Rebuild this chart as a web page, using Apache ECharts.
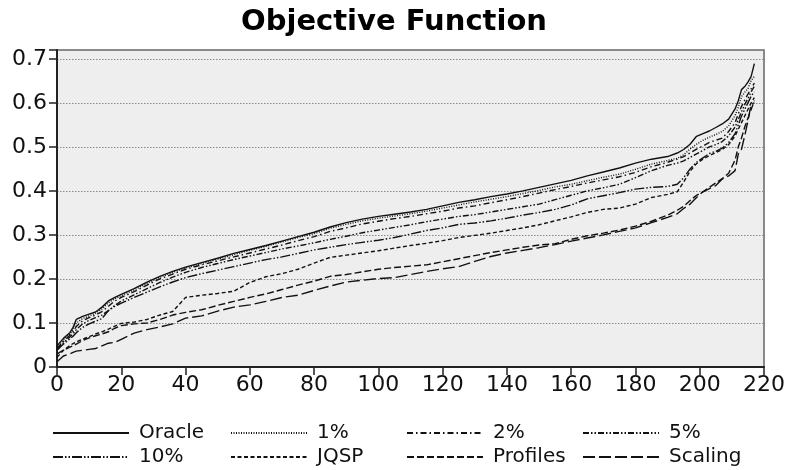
<!DOCTYPE html>
<html>
<head>
<meta charset="utf-8">
<script src="https://cdn.jsdelivr.net/npm/echarts@6/dist/echarts.min.js"></script>
<style>
  html, body { margin: 0; padding: 0; background: #ffffff; }
  #chart { width: 788px; height: 470px; }
</style>
</head>
<body>
<div id="chart"></div>
<script>
// Rank positions along the x axis (instances sorted by objective value)
const ranks = [0,2,4,5,6,8,10,12,14,16,18,20,24,28,32,36,40,45,50,55,60,65,70,75,80,85,90,95,100,105,110,115,120,125,130,135,140,145,150,155,160,165,170,175,180,185,190,193,195,197,199,201,203,205,207,209,211,212,213,214,215,216,217];

const oracle = [0.048,0.065,0.078,0.090,0.108,0.115,
  0.120,0.125,0.136,0.150,0.158,0.165,
  0.178,0.193,0.206,0.217,0.227,
  0.237,0.247,0.258,0.267,0.276,0.286,0.296,0.306,0.318,0.328,0.336,0.342,0.347,0.352,0.358,0.366,0.374,0.380,0.387,0.393,0.400,0.408,0.416,0.424,0.434,0.443,0.452,0.463,0.472,0.478,
  0.486,0.494,0.506,0.524,0.530,0.536,0.544,0.552,0.563,0.586,
  0.605,0.630,0.637,0.647,0.660,0.689];

const pct1 = [0.045,0.062,0.075,0.085,0.100,0.110,
  0.116,0.122,0.132,0.146,0.155,0.162,
  0.175,0.190,0.204,0.215,0.225,
  0.235,0.245,0.255,0.265,0.274,0.284,0.294,0.303,0.315,0.324,0.332,0.338,0.343,0.348,0.354,0.361,0.368,0.375,0.381,0.387,0.394,0.401,0.409,0.415,0.423,0.431,0.438,0.449,0.461,0.469,
  0.474,0.482,0.495,0.506,0.515,0.522,0.528,0.535,0.548,0.571,
  0.590,0.614,0.624,0.632,0.651,0.660];

const pct2 = [0.042,0.058,0.072,0.080,0.092,0.105,
  0.112,0.118,0.126,0.138,0.150,0.158,
  0.171,0.186,0.200,0.211,0.222,
  0.232,0.241,0.250,0.259,0.268,0.277,0.287,0.296,0.308,0.316,0.325,0.331,0.337,0.342,0.348,0.354,0.361,0.366,0.373,0.380,0.387,0.395,0.403,0.410,0.418,0.425,0.432,0.442,0.455,0.465,
  0.472,0.478,0.486,0.495,0.502,0.510,0.515,0.520,0.535,0.555,
  0.575,0.592,0.606,0.620,0.632,0.645];

const pct5 = [0.040,0.055,0.068,0.075,0.085,0.098,
  0.106,0.112,0.118,0.128,0.140,0.150,
  0.164,0.178,0.192,0.204,0.215,
  0.226,0.235,0.244,0.252,0.260,0.268,0.275,0.282,0.290,0.297,0.305,0.311,0.317,0.323,0.330,0.336,0.342,0.346,0.352,0.358,0.364,0.370,0.380,0.390,0.400,0.407,0.415,0.430,0.446,0.458,
  0.463,0.468,0.476,0.484,0.492,0.500,0.505,0.512,0.525,0.545,
  0.562,0.580,0.596,0.610,0.625,0.638];

const pct10 = [0.038,0.052,0.064,0.070,0.078,0.090,
  0.098,0.104,0.110,0.128,0.138,0.145,
  0.158,0.170,0.182,0.193,0.203,
  0.212,0.220,0.228,0.236,0.244,0.250,0.258,0.266,0.272,0.278,0.283,0.288,0.294,0.302,0.310,0.316,0.324,0.327,0.332,0.338,0.345,0.351,0.358,0.368,0.382,0.389,0.396,0.404,0.408,0.410,
  0.415,0.430,0.450,0.465,0.475,0.485,0.490,0.497,0.510,0.530,
  0.550,0.570,0.585,0.600,0.615,0.625];

const jqsp = [0.022,0.038,0.049,0.053,0.057,0.063,
  0.069,0.075,0.080,0.086,0.093,0.099,
  0.102,0.108,0.118,0.126,0.158,
  0.163,0.167,0.172,0.192,0.205,0.212,0.222,0.236,0.249,0.254,0.259,0.264,0.270,0.276,0.281,0.287,0.294,0.299,0.304,0.310,0.316,0.323,0.332,0.341,0.351,0.358,0.361,0.370,0.385,0.392,
  0.398,0.420,0.445,0.462,0.472,0.480,0.487,0.494,0.505,0.525,
  0.540,0.555,0.570,0.585,0.600,0.612];

const profiles = [0.030,0.038,0.045,0.048,0.052,0.060,
  0.066,0.071,0.075,0.080,0.088,0.094,
  0.098,0.100,0.108,0.118,0.124,
  0.130,0.140,0.149,0.158,0.166,0.176,0.186,0.195,0.206,0.210,0.216,0.222,0.226,0.229,0.232,0.239,0.246,0.253,0.260,0.266,0.272,0.277,0.280,0.290,0.298,0.304,0.311,0.320,0.331,0.345,
  0.356,0.365,0.378,0.390,0.398,0.408,0.418,0.428,0.440,0.470,
  0.500,0.520,0.545,0.565,0.585,0.605];

const scaling = [0.012,0.025,0.030,0.033,0.036,0.038,
  0.040,0.042,0.048,0.054,0.056,0.063,
  0.077,0.085,0.091,0.098,0.111,
  0.116,0.127,0.136,0.141,0.149,0.158,0.163,0.174,0.184,0.193,0.197,0.201,0.203,0.210,0.217,0.223,0.228,0.240,0.251,0.259,0.265,0.271,0.278,0.286,0.293,0.300,0.308,0.316,0.328,0.340,
  0.348,0.360,0.370,0.385,0.398,0.405,0.412,0.427,0.434,0.446,
  0.484,0.495,0.525,0.559,0.597,0.600];

const seriesNames = ['Oracle', '1%', '2%', '5%', '10%', 'JQSP', 'Profiles', 'Scaling'];
const seriesValues = [oracle, pct1, pct2, pct5, pct10, jqsp, profiles, scaling];

// Dash patterns for each method (solid, dotted, dash-dot, ...)
const dashes = [
  'solid',
  [1, 1.5],
  [6, 3, 1.5, 3],
  [6, 2, 1.5, 2, 1.5, 2],
  [10, 2, 1.5, 2, 1.5, 2],
  [4, 2.5],
  [7, 3],
  [12, 4]
];

const FONT = 'DejaVu Sans';

const series = seriesNames.map((name, k) => ({
  name: name,
  type: 'line',
  symbol: 'none',
  showSymbol: false,
  animation: false,
  lineStyle: { color: '#111111', width: 1.4, type: dashes[k] },
  itemStyle: { color: '#111111' },
  data: ranks.map((r, i) => [r, seriesValues[k][i]])
}));

// Legend: two rows of four entries, fixed columns; only the line sample is shown
const legendCols = [52, 230, 406, 582];
const legendRows = [423, 447];
const legends = seriesNames.map((name, k) => ({
  data: [name],
  left: legendCols[k % 4],
  top: legendRows[Math.floor(k / 4)],
  orient: 'horizontal',
  padding: 0,
  itemWidth: 76,
  itemHeight: 16,
  selectedMode: false,
  itemStyle: { color: 'rgba(0,0,0,0)', borderColor: 'rgba(0,0,0,0)', borderWidth: 0 },
  textStyle: { fontFamily: FONT, fontSize: 20, color: '#111111', padding: [0, 0, 0, 5] }
}));

const chart = echarts.init(document.getElementById('chart'), null, { renderer: 'canvas' });
chart.setOption({
  animation: false,
  backgroundColor: '#ffffff',
  title: {
    text: 'Objective Function',
    left: 'center',
    top: 3,
    textStyle: { fontFamily: FONT, fontSize: 29, fontWeight: 'bold', color: '#000000' }
  },
  legend: legends,
  grid: {
    left: 57, right: 19, top: 50, bottom: 103,
    show: true,
    backgroundColor: '#eeeeee',
    borderColor: '#666666',
    borderWidth: 1.5
  },
  xAxis: {
    type: 'value',
    min: 0, max: 220, interval: 20,
    axisLine: { show: true, onZero: false, lineStyle: { color: '#222222', width: 2 } },
    axisTick: { show: true, inside: false, length: 8, lineStyle: { color: '#222222', width: 1.5 } },
    axisLabel: { fontFamily: FONT, fontSize: 22, color: '#111111', margin: 7 },
    splitLine: { show: false }
  },
  yAxis: {
    type: 'value',
    min: 0, max: 0.72, interval: 0.1,
    axisLine: { show: true, onZero: false, lineStyle: { color: '#222222', width: 2 } },
    axisTick: { show: true, inside: false, length: 8, lineStyle: { color: '#222222', width: 1.5 } },
    axisLabel: {
      fontFamily: FONT, fontSize: 22, color: '#111111', margin: 10,
      formatter: function (v) {
        if (Math.abs(v * 10 - Math.round(v * 10)) > 1e-6) return '';
        return v === 0 ? '0' : v.toFixed(1);
      }
    },
    splitLine: { show: true, lineStyle: { color: '#8a8a8a', width: 1, type: [1.5, 1.5] } }
  },
  series: series
});
</script>
</body>
</html>
